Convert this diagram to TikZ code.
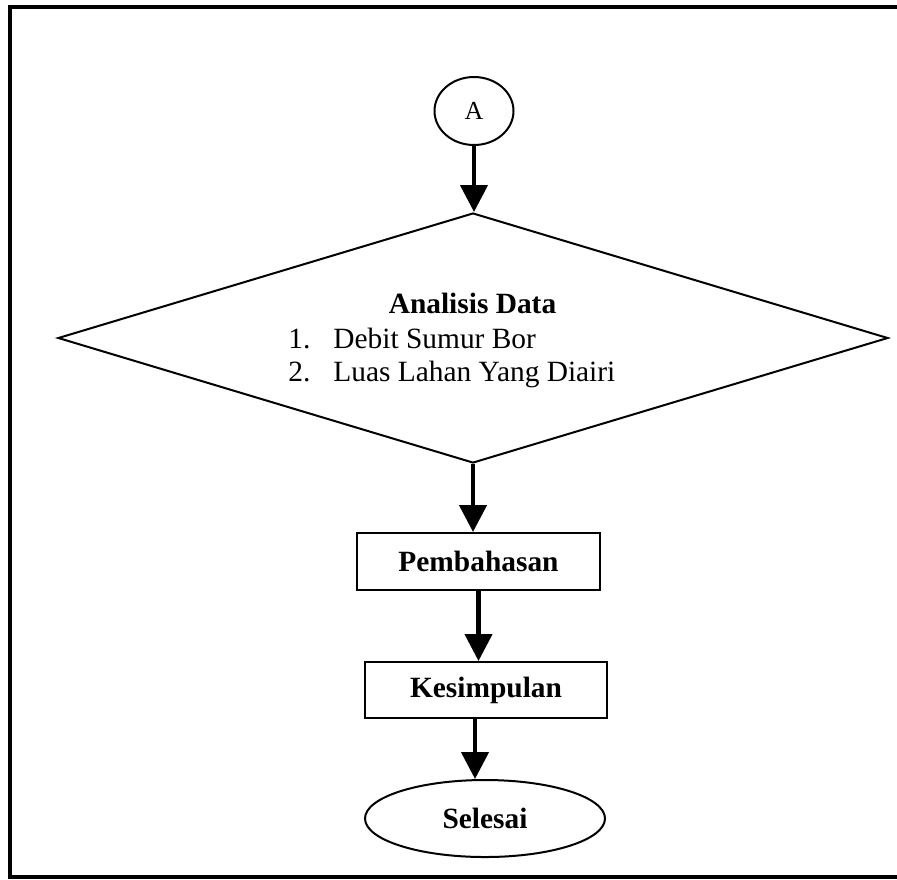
\documentclass[tikz,border=0pt]{standalone}
\usepackage{fontspec}
\setmainfont{Liberation Serif}
\usetikzlibrary{shapes.geometric,arrows.meta}

\begin{document}
\begin{tikzpicture}[x=0.5pt,y=-0.5pt,
	teks/.style={inner sep=0pt,font=\fontsize{14.7}{17}\selectfont},
	kotak/.style={draw,line width=1pt,rectangle,inner sep=0pt,font=\fontsize{14.7}{17}\selectfont\bfseries},
	bulat/.style={draw,line width=1pt,ellipse,inner sep=0pt},
	panah/.style={line width=2.2pt,-{Triangle[length=13.5pt,width=13.5pt]}}]

	\useasboundingbox (0,0) rectangle (897,879);

	% frame
	\draw[line width=2pt] (915,7) -- (9.5,7) -- (9.5,876.5) -- (915,876.5);

	% connector A
	\node[bulat,minimum width=39.5pt,minimum height=34pt,font=\fontsize{13}{15}\selectfont] (A) at (474,111) {A};

	% analisis
	\node[draw,diamond,line width=1pt,inner sep=0pt,minimum width=415pt,minimum height=125pt] (analisis) at (473,338) {};
	\node[teks,anchor=base,font=\fontsize{14.7}{17}\selectfont\bfseries] (judul) at (472.5,313) {Analisis Data};
	\node[teks,anchor=base west] (no1) at (288,348) {1.};
	\node[teks,anchor=base west] (isi1) at (333,348) {Debit Sumur Bor};
	\node[teks,anchor=base west] (no2) at (288,381) {2.};
	\node[teks,anchor=base west] (isi2) at (333,381) {Luas Lahan Yang Diairi};

	% boxes
	\node[kotak,minimum width=121.5pt,minimum height=28.5pt] (pembahasan) at (478.5,561.5) {Pembahasan};
	\node[kotak,minimum width=121pt,minimum height=28pt] (kesimpulan) at (486,690) {Kesimpulan};
	\node[bulat,minimum width=120pt,minimum height=38.5pt,font=\fontsize{14.7}{17}\selectfont\bfseries] (selesai) at (485,818.5) {Selesai};

	% arrows
	\draw[panah] (A.south) -- (A.south |- analisis.north);
	\draw[panah] (analisis.south) -- (analisis.south |- pembahasan.north);
	\draw[panah] (pembahasan.south) -- (pembahasan.south |- kesimpulan.north);
	\draw[panah] ([xshift=-5.5pt]kesimpulan.south) -- ([xshift=-5.5pt]kesimpulan.south |- selesai.north);

\end{tikzpicture}
\end{document}
